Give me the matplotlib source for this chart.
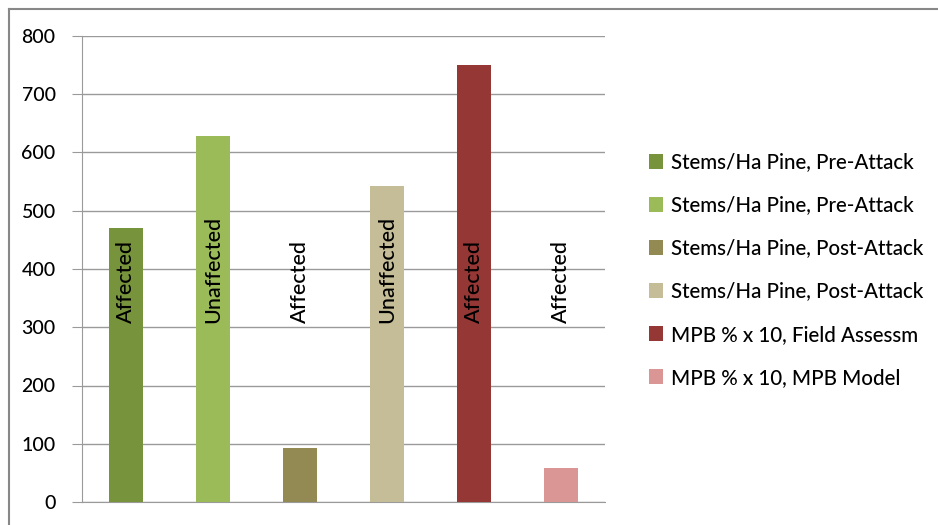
import matplotlib.pyplot as plt
from matplotlib.patches import Patch
from matplotlib.lines import Line2D

series = ["Stems/Ha Pine, Pre-Attack", "Stems/Ha Pine, Pre-Attack",
          "Stems/Ha Pine, Post-Attack", "Stems/Ha Pine, Post-Attack",
          "MPB % x 10, Field Assessm", "MPB % x 10, MPB Model"]
values = [470, 628, 93, 542, 750, 58]
bar_labels = ["Affected", "Unaffected", "Affected", "Unaffected", "Affected", "Affected"]
colors = ["#77933C", "#9BBB59", "#938953", "#C4BD97", "#953735", "#D99694"]
yticks = [0, 100, 200, 300, 400, 500, 600, 700, 800]

plt.rcParams['font.family'] = ['Lato', 'DejaVu Sans']

fig = plt.figure(figsize=(9.38, 5.25), dpi=100)
ax = fig.add_axes([82 / 938, 1 - 502 / 525, (605 - 82) / 938, (502 - 36) / 525])

x = range(len(values))
ax.bar(x, values, width=0.39, color=colors, zorder=3)
for i, lab in enumerate(bar_labels):
    ax.text(i, 308, lab, rotation=90, ha='center', va='bottom', fontsize=15.5,
            fontweight='medium', zorder=4)

ax.set_xlim(-0.5, len(values) - 0.5)
ax.set_ylim(0, 800)
ax.set_yticks(yticks)
ax.set_yticklabels([str(t) for t in yticks], fontsize=14, fontweight='medium')
ax.set_xticks([])
ax.yaxis.grid(True, color="#9a9a9a", linewidth=1, zorder=0)
ax.tick_params(axis='y', length=7, color="#9a9a9a", pad=12)
for s in ['top', 'right']:
    ax.spines[s].set_visible(False)
ax.spines['left'].set_color("#9a9a9a")
ax.spines['bottom'].set_color("#9a9a9a")

handles = [Patch(facecolor=c, edgecolor='none', label=s) for c, s in zip(colors, series)]
fig.legend(handles=handles, loc='upper left', bbox_to_anchor=(630 / 938, 1 - 134 / 525),
           frameon=False, handlelength=0.7, handleheight=0.7,
           handletextpad=0.4, labelspacing=1.12, prop={'size': 14.8, 'weight': 'medium'})

# chart frame, only top and left edges are visible in the crop
fig.add_artist(Line2D([9 / 938, 1], [1 - 9 / 525, 1 - 9 / 525], transform=fig.transFigure,
                      color="#888888", linewidth=1.5))
fig.add_artist(Line2D([9 / 938, 9 / 938], [0, 1 - 9 / 525], transform=fig.transFigure,
                      color="#888888", linewidth=1.5))

fig.savefig("out.png", dpi=100)
